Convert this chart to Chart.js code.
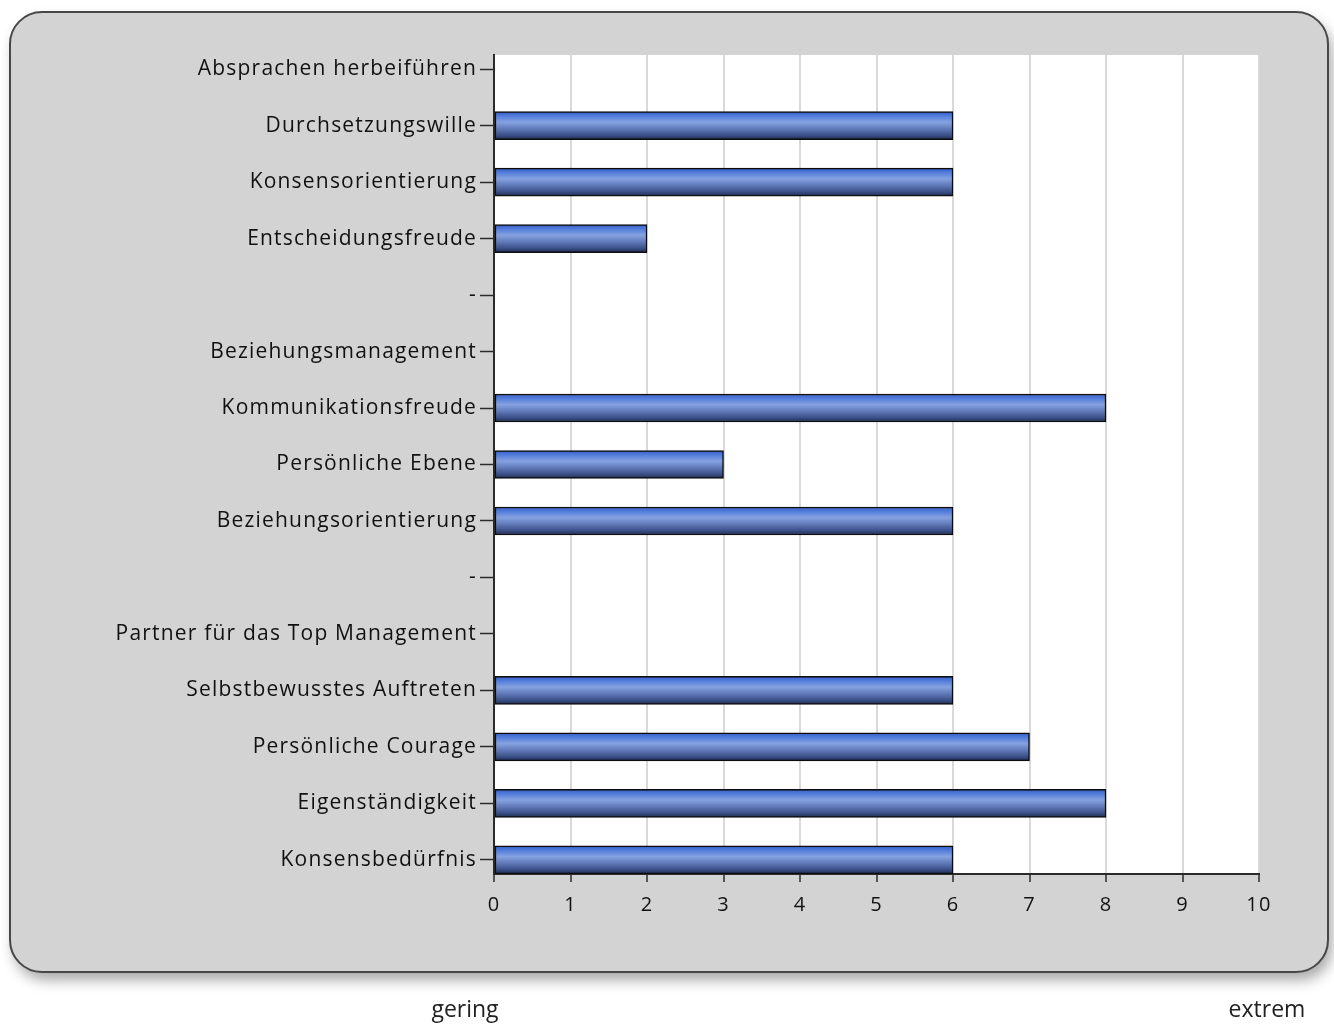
<!DOCTYPE html>
<html>
<head>
<meta charset="utf-8">
<title>Profil</title>
<script src="https://cdn.jsdelivr.net/npm/chart.js@4.4.1/dist/chart.umd.min.js"></script>
<style>
    html, body { margin: 0; padding: 0; background: #fff; }
    #wrap { width: 1334px; height: 1024px; }
</style>
</head>
<body>
<div id="wrap"><canvas id="profilChart" width="1334" height="1024"></canvas></div>
<script>
const kategorien = [
    'Absprachen herbeiführen',
    'Durchsetzungswille',
    'Konsensorientierung',
    'Entscheidungsfreude',
    '-',
    'Beziehungsmanagement',
    'Kommunikationsfreude',
    'Persönliche Ebene',
    'Beziehungsorientierung',
    '-',
    'Partner für das Top Management',
    'Selbstbewusstes Auftreten',
    'Persönliche Courage',
    'Eigenständigkeit',
    'Konsensbedürfnis'
];
// null = keine Ausprägung (Überschriften und Trenner)
const werte = [null, 6, 6, 2, null, null, 8, 3, 6, null, null, 6, 7, 8, 6];
const skalaTicks = [0, 1, 2, 3, 4, 5, 6, 7, 8, 9, 10];
const skalaEnden = ['gering', 'extrem'];

const schrift = '"Open Sans", "DejaVu Sans", sans-serif';

// Balken mit vertikalem Verlauf, pro Balken berechnet
const balkenHoehe = 28;
function balkenFarbe(c) {
    const skala = c.chart.scales && c.chart.scales.y;
    if (!c.parsed || !skala) return '#5a7fd0';
    const mitte = skala.getPixelForValue(c.parsed.y);
    if (!isFinite(mitte)) return '#5a7fd0';
    const y0 = mitte - balkenHoehe / 2;
    const g = c.chart.ctx.createLinearGradient(0, y0, 0, y0 + balkenHoehe);
    g.addColorStop(0, '#3558b8');
    g.addColorStop(0.12, '#4a76da');
    g.addColorStop(0.38, '#86a2e0');
    g.addColorStop(0.62, '#6079b8');
    g.addColorStop(0.85, '#3a4f86');
    g.addColorStop(1, '#1d2a50');
    return g;
}

const rahmen = {
    id: 'rahmen',
    beforeDraw(chart) {
        const ctx = chart.ctx;
        const a = chart.chartArea;
        ctx.letterSpacing = '1.2px';
        ctx.save();
        ctx.shadowColor = 'rgba(0,0,0,0.35)';
        ctx.shadowBlur = 14;
        ctx.shadowOffsetX = 4;
        ctx.shadowOffsetY = 8;
        ctx.beginPath();
        ctx.roundRect(10, 12, 1318, 960, 32);
        ctx.fillStyle = '#d3d3d3';
        ctx.fill();
        ctx.restore();
        ctx.save();
        ctx.beginPath();
        ctx.roundRect(10, 12, 1318, 960, 32);
        ctx.lineWidth = 2;
        ctx.strokeStyle = '#474747';
        ctx.stroke();
        ctx.fillStyle = '#ffffff';
        ctx.fillRect(a.left, a.top, a.right - a.left, a.bottom - a.top);
        ctx.restore();
    },
    afterDraw(chart) {
        const ctx = chart.ctx;
        ctx.save();
        ctx.letterSpacing = '0px';
        ctx.font = '23px ' + schrift;
        ctx.fillStyle = '#222';
        ctx.textAlign = 'center';
        ctx.textBaseline = 'middle';
        ctx.fillText(skalaEnden[0], 465, 1010);
        ctx.fillText(skalaEnden[1], 1267, 1010);
        ctx.restore();
    }
};

const daten = {
    datasets: [{
        label: 'Ausprägung',
        data: werte.map((w, i) => ({ x: w, y: i })).filter(p => p.x !== null),
        backgroundColor: balkenFarbe,
        borderColor: '#0d0d0d',
        borderWidth: 1.5,
        borderSkipped: false,
        barThickness: balkenHoehe
    }]
};

const config = {
    type: 'bar',
    data: daten,
    plugins: [rahmen],
    options: {
        indexAxis: 'y',
        responsive: false,
        animation: false,
        layout: { padding: { left: 20, top: 55, right: 75, bottom: 100 } },
        plugins: {
            legend: { display: false },
            tooltip: { enabled: false }
        },
        scales: {
            y: {
                type: 'linear',
                reverse: true,
                offset: false,
                min: -0.25,
                max: 14.25,
                afterBuildTicks: (s) => { s.ticks = kategorien.map((_, i) => ({ value: i })); },
                afterFit: (s) => { s.width = 474; },
                ticks: {
                    callback: (v) => kategorien[v],
                    color: '#111',
                    font: { family: schrift, size: 21 },
                    padding: 3,
                    autoSkip: false
                },
                grid: {
                    offset: false,
                    drawOnChartArea: false,
                    drawTicks: true,
                    tickLength: 14,
                    tickColor: '#2b2b2b',
                    tickWidth: 1.5
                },
                border: { display: true, color: '#2b2b2b', width: 2 }
            },
            x: {
                type: 'linear',
                min: skalaTicks[0],
                max: skalaTicks[skalaTicks.length - 1],
                afterBuildTicks: (s) => { s.ticks = skalaTicks.map(v => ({ value: v })); },
                afterFit: (s) => { s.height = 50; },
                ticks: {
                    color: '#111',
                    font: { family: schrift, size: 20 },
                    padding: 11,
                    maxRotation: 0
                },
                grid: {
                    color: '#d9d9d9',
                    lineWidth: 2,
                    tickColor: '#2b2b2b',
                    tickWidth: 1.5,
                    tickLength: 8
                },
                border: { display: true, color: '#2b2b2b', width: 2 }
            }
        }
    }
};

window.profilChart = new Chart(document.getElementById('profilChart'), config);
// erneut zeichnen, sobald die Skalen Pixelwerte für den Verlauf liefern
window.profilChart.update();
</script>
</body>
</html>
